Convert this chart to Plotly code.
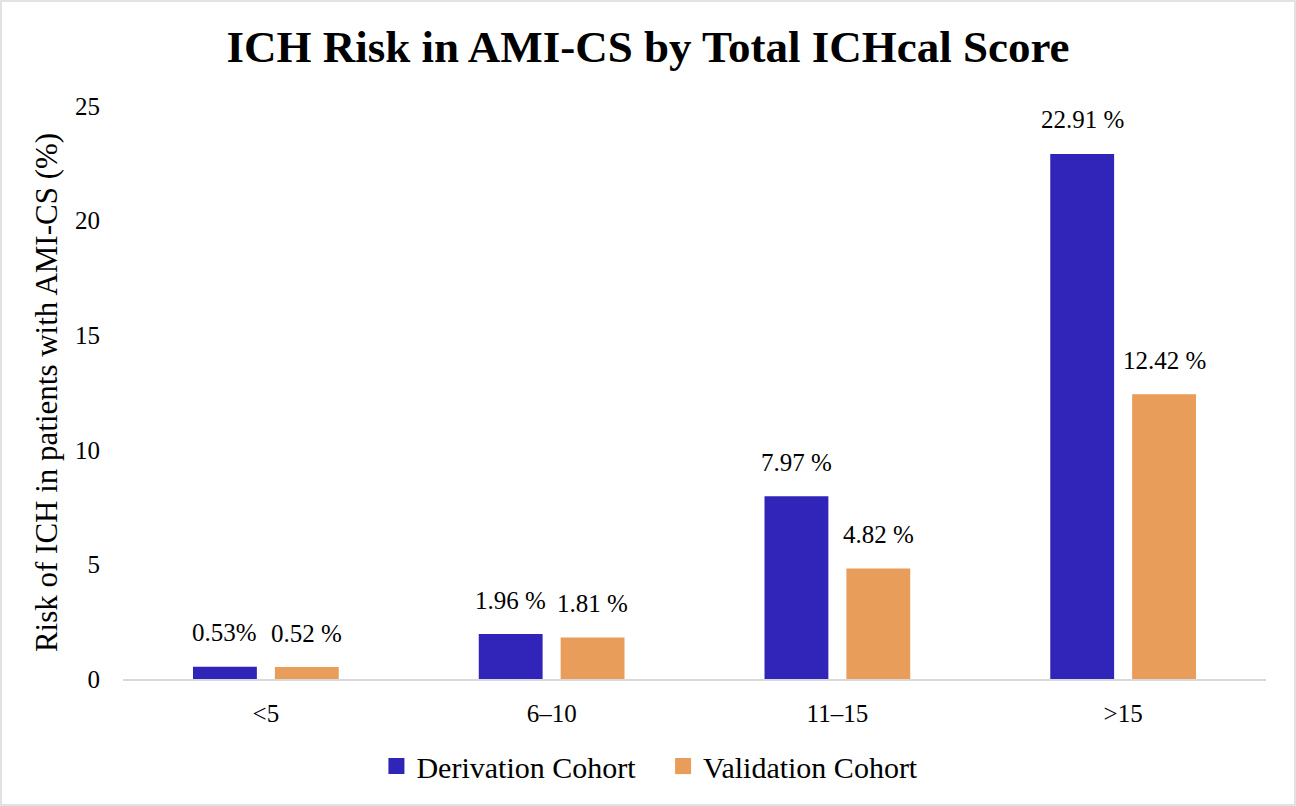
import plotly.graph_objects as go

categories = ["<5", "6–10", "11–15", ">15"]
derivation = [0.53, 1.96, 7.97, 22.91]
validation = [0.52, 1.81, 4.82, 12.42]
derivation_labels = ["0.53%", "1.96 %", "7.97 %", "22.91 %"]
validation_labels = ["0.52 %", "1.81 %", "4.82 %", "12.42 %"]
series_names = ["Derivation Cohort", "Validation Cohort"]
y_ticks = [0, 5, 10, 15, 20, 25]

BLUE = "#3124B8"
ORANGE = "#E99D5A"
FONT = "Liberation Serif"

fig = go.Figure()
fig.add_trace(go.Bar(x=categories, y=derivation, name=series_names[0], showlegend=False,
                     marker=dict(color=BLUE, line=dict(width=0))))
fig.add_trace(go.Bar(x=categories, y=validation, name=series_names[1], showlegend=False,
                     marker=dict(color=ORANGE, line=dict(width=0))))
# legend entries with larger square keys
fig.add_trace(go.Scatter(x=[None], y=[None], mode="markers",
                         name=series_names[0] + "&nbsp;&nbsp;&nbsp;",
                         marker=dict(symbol="square", size=16, color=BLUE)))
fig.add_trace(go.Scatter(x=[None], y=[None], mode="markers", name=series_names[1],
                         marker=dict(symbol="square", size=16, color=ORANGE)))

for c, v, t in zip(categories, derivation, derivation_labels):
    fig.add_annotation(x=c, y=v, text=t, xref="x", yref="y", showarrow=False,
                       xshift=-41, yshift=34, font=dict(family=FONT, size=25, color="black"))
for c, v, t in zip(categories, validation, validation_labels):
    fig.add_annotation(x=c, y=v, text=t, xref="x", yref="y", showarrow=False,
                       xshift=41, yshift=34, font=dict(family=FONT, size=25, color="black"))

W, H = 1296, 806
ml, mr, mt, mb = 123, 30, 106, 127
pw, ph = W - ml - mr, H - mt - mb
# light gray frame around the whole figure
fig.add_shape(type="rect", xref="paper", yref="paper",
              x0=(-ml + 1) / pw, x1=(pw + mr - 1) / pw,
              y0=(-mb + 1) / ph, y1=(ph + mt - 1) / ph,
              line=dict(color="#d9d9d9", width=1.5), layer="below")

fig.update_layout(
    width=W, height=H,
    margin=dict(l=ml, r=mr, t=mt, b=mb),
    paper_bgcolor="white", plot_bgcolor="white",
    font=dict(family=FONT, color="black"),
    title=dict(text="<b>ICH Risk in AMI-CS by Total ICHcal Score</b>",
               x=0.5, xanchor="center", y=0.942, yanchor="middle",
               font=dict(family=FONT, size=45, color="black")),
    barmode="group", bargap=0.427, bargroupgap=0.22,
    legend=dict(orientation="h", x=0.461, xanchor="center", y=-0.152, yanchor="middle",
                font=dict(family=FONT, size=30, color="black"),
                itemwidth=30, traceorder="normal"),
    xaxis=dict(showline=True, linecolor="#d9d9d9", linewidth=2, showgrid=False,
               ticks="", tickfont=dict(family=FONT, size=25, color="black"),
               ticklabelstandoff=11),
    yaxis=dict(range=[0, 25], tickvals=y_ticks, showgrid=False, zeroline=False,
               showline=False, ticks="",
               tickfont=dict(family=FONT, size=25, color="black"),
               ticklabelstandoff=22,
               title=dict(text="Risk of ICH in patients with AMI-CS (%)",
                          font=dict(family=FONT, size=31, color="black"), standoff=8)),
)

fig.write_html("out.html", post_script="document.body.style.margin='0';",
               config={"displayModeBar": False})
